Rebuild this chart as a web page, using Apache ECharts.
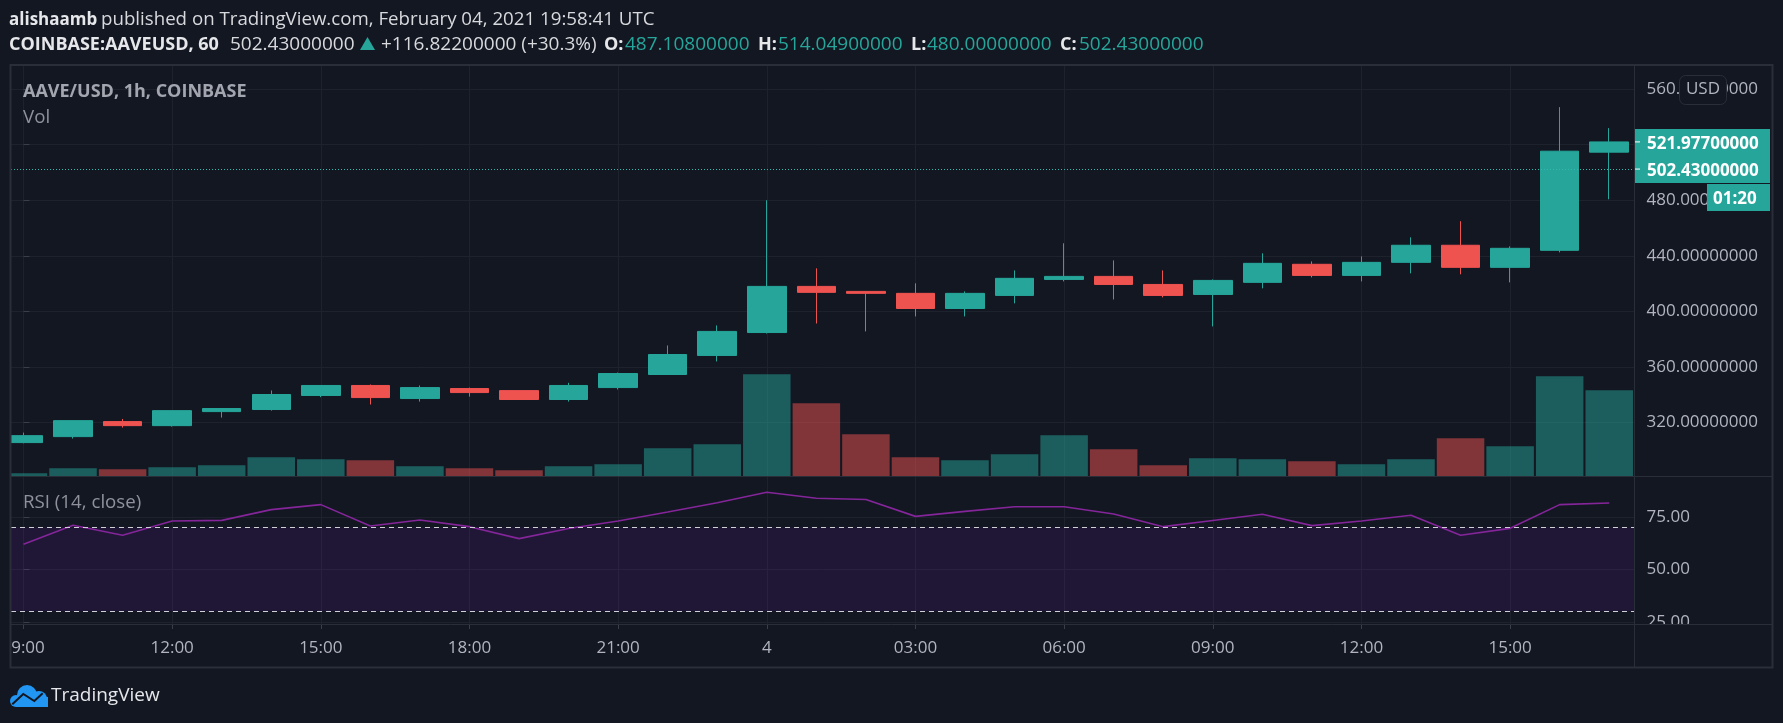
<!DOCTYPE html>
<html><head><meta charset="utf-8">
<style>html,body{margin:0;padding:0;background:#131722}#c{width:1783px;height:723px}</style>
<script src="https://cdn.jsdelivr.net/npm/echarts@6/dist/echarts.min.js"></script></head>
<body><div id="c"></div>
<script>
const hours = [0,1,2,3,4,5,6,7,8,9,10,11,12,13,14,15,16,17,18,19,20,21,22,23,24,25,26,27,28,29,30,31,32];
const opens  = [305.6,309.9,320.7,317.8,327.9,329.4,339.5,346.7,337.3,344.5,343.0,336.6,345.2,354.6,368.3,384.8,418.0,414.4,413.0,402.1,411.5,423.0,425.2,419.4,412.2,420.9,433.9,425.9,435.3,447.6,431.7,443.96,514.6];
const closes = [310.6,321.4,317.8,328.6,330.1,340.2,346.7,338.0,345.2,341.6,336.6,346.7,355.3,369.0,385.6,418.0,413.7,413.0,402.1,413.0,423.8,425.2,419.4,411.5,422.3,434.6,425.9,435.3,447.6,431.7,445.4,515.3,521.977];
const lows   = [305.1,308.5,316.4,317.1,323.6,328.6,338.3,333.0,335.1,338.7,336.6,335.1,343.8,354.6,364.0,384.1,391.3,385.6,396.4,396.4,405.8,421.6,408.6,410.1,389.2,416.6,424.5,421.6,427.4,426.7,420.9,442.5,480.7];
const highs  = [312.8,321.4,322.6,328.6,330.1,343.1,346.7,347.4,346.7,345.2,343.0,348.6,356.0,375.5,389.9,480.0,431.0,414.4,420.2,414.4,429.5,449.0,436.7,429.5,423.0,441.8,436.0,439.6,453.3,464.9,446.8,547.0,531.9];
const volumes = [10,25,22,28,34,58,52,49,31,25,19,31,37,85,97,307,220,127,58,49,67,124,82,34,55,52,46,37,52,115,91,301,259];
const rsi = [61.9,71.0,66.2,73.0,73.3,78.4,80.8,70.6,73.5,70.3,64.6,69.4,73.0,77.3,81.7,86.7,83.8,83.2,75.2,77.6,79.8,79.8,76.3,70.3,73.2,76.2,70.8,73.0,75.7,66.2,69.5,80.8,81.6];
const timeTickValues = [0,3,6,9,12,15,18,21,24,27,30];
const timeTickLabels = ['9:00','12:00','15:00','18:00','21:00','4','03:00','06:00','09:00','12:00','15:00'];
const priceTicks = [320,360,400,440,480,520,560];
const rsiTicks = [25,50,75];
const lastPrice = 502.43, liveClose = 521.977, rsiUpper = 70, rsiLower = 30;

const BG='#131722', UP='#26a69a', DOWN='#ef5350', GRIDC='#1e222c', FRAME='#2a2e39', TXT='#b2b5be';
const FAM='Open Sans', FONT='"Open Sans"';
const xMin=-0.252, xMax=32.51;
const chart = echarts.init(document.getElementById('c'),null,{renderer:'canvas'});

function xCommon(gridIndex, extra){
  return Object.assign({type:'value',gridIndex,min:xMin,max:xMax,
    axisLine:{show:false},
    axisTick:{show:false,customValues:timeTickValues},
    axisLabel:{show:false,customValues:timeTickValues},
    splitLine:{show:true,lineStyle:{color:GRIDC,width:1}}},extra||{});
}
const option = {
  animation:false,
  backgroundColor:BG,
  textStyle:{fontFamily:FAM},
  grid:[
    {left:11,right:148.5,top:66,height:410.5},
    {left:11,right:148.5,top:477,height:147}
  ],
  xAxis:[
    xCommon(0),
    xCommon(1,{
      axisTick:{show:true,length:5,customValues:timeTickValues,lineStyle:{color:'#3a3e49'}},
      axisLabel:{show:true,customValues:timeTickValues,color:TXT,fontSize:17,fontFamily:FAM,margin:16,
        formatter:v=>{const i=timeTickValues.indexOf(v);return i===0?'{f|'+timeTickLabels[i]+'}':timeTickLabels[i];},
        rich:{f:{color:TXT,fontSize:17,fontFamily:FAM,padding:[0,0,0,9]}}}
    })
  ],
  yAxis:[
    {type:'value',gridIndex:0,position:'right',min:281.2,max:576.6,
      axisLine:{show:false},
      axisTick:{show:true,length:6,customValues:priceTicks,lineStyle:{color:'#3a3e49'}},
      axisLabel:{show:true,customValues:priceTicks,color:TXT,fontSize:17,fontFamily:FAM,margin:12,padding:[2,0,0,0],formatter:v=>v.toFixed(8)},
      splitLine:{show:true,lineStyle:{color:GRIDC,width:1}}},
    {type:'value',gridIndex:0,position:'right',min:0,max:1231.5,show:false,splitLine:{show:false}},
    {type:'value',gridIndex:1,position:'right',min:23.95,max:93.95,
      axisLine:{show:false},
      axisTick:{show:true,length:6,customValues:rsiTicks,lineStyle:{color:'#3a3e49'}},
      axisLabel:{show:true,customValues:rsiTicks,color:TXT,fontSize:17,fontFamily:FAM,margin:12,padding:[2,0,0,0],formatter:v=>v.toFixed(2)},
      splitLine:{show:true,lineStyle:{color:GRIDC,width:1}}}
  ],
  series:[
    {type:'bar',name:'Vol',xAxisIndex:0,yAxisIndex:1,barWidth:47.5,z:1,
      data:hours.map((h,i)=>({value:[h,volumes[i]],itemStyle:{color:closes[i]>=opens[i]?'rgba(38,166,154,0.5)':'rgba(239,83,80,0.5)'}}))},
    {type:'line',name:'last',xAxisIndex:0,yAxisIndex:0,data:[],z:2,silent:true,
      markLine:{silent:true,symbol:'none',label:{show:false},
        lineStyle:{color:'#2fb8ab',type:[1,2],width:1,opacity:1},data:[{yAxis:lastPrice}]}},
    {type:'candlestick',name:'AAVE/USD',layout:'horizontal',xAxisIndex:0,yAxisIndex:0,barWidth:39,z:3,
      encode:{x:0,y:[1,2,3,4]},
      itemStyle:{color:UP,color0:DOWN,borderColor:UP,borderColor0:DOWN,borderWidth:1},
      data:hours.map((h,i)=>[h,opens[i],closes[i],lows[i],highs[i]])},
    {type:'line',name:'RSI',xAxisIndex:1,yAxisIndex:2,symbol:'none',z:3,
      lineStyle:{color:'#84259a',width:1.6},
      data:hours.map((h,i)=>[h,rsi[i]]),
      markLine:{silent:true,symbol:'none',label:{show:false},
        lineStyle:{color:'#cfd1d6',type:[5,4],width:1},
        data:[{yAxis:rsiUpper},{yAxis:rsiLower}]},
      markArea:{silent:true,itemStyle:{color:'rgba(150,30,240,0.1)'},
        data:[[{yAxis:rsiLower},{yAxis:rsiUpper}]]}}
  ]
};
chart.setOption(option);

function T(x,y,text,o){return {type:'text',x,y:y+1,z2:(o&&o.z2)||10,silent:true,style:Object.assign({text,fill:TXT,font:'17px '+FONT,textAlign:'left',textVerticalAlign:'middle'},o||{})};}
function R(x,y,w,h,fill,o){return Object.assign({type:'rect',silent:true,z2:5,shape:{x,y,width:w,height:h},style:{fill}},o||{});}
function L(x1,y1,x2,y2,c,w,z){return {type:'line',silent:true,z2:z||8,shape:{x1,y1,x2,y2},style:{stroke:c,lineWidth:w}};}
function C(cx,cy,r,fill){return {type:'circle',silent:true,z2:10,shape:{cx,cy,r},style:{fill}};}
const yClose=chart.convertToPixel({yAxisIndex:0},liveClose), yLast=chart.convertToPixel({yAxisIndex:0},lastPrice);
const W='#e6e7ea', boldF='bold 18px '+FONT, tagF='bold 17px '+FONT, reg='19px '+FONT;
const elements=[
  // masks outside panes
  R(0,60,10,570,BG),
  R(1636,625,136,41,BG),
  // frame
  {type:'rect',silent:true,z2:8,shape:{x:10.5,y:65,width:1762,height:602.5},style:{fill:'none',stroke:FRAME,lineWidth:2}},
  L(1634.5,65,1634.5,667,FRAME,1),
  L(10,624.5,1773,624.5,FRAME,1),
  L(10,476.5,1773,476.5,FRAME,1),
  // header
  T(9,19,'alishaamb',{font:'bold 17px '+FONT,fill:'#e6e7ea'}),
  T(101,19,'published on TradingView.com, February 04, 2021 19:58:41 UTC',{font:'18.7px '+FONT,fill:'#d8d9dd'}),
  T(9,44,'COINBASE:AAVEUSD, 60',{font:boldF,fill:W}),
  T(230,44,'502.43000000',{font:reg,fill:'#d8d9dd'}),
  {type:'polygon',silent:true,z2:10,shape:{points:[[367.5,37],[360,50],[375,50]]},style:{fill:UP}},
  T(381,44,'+116.82200000 (+30.3%)',{font:reg,fill:'#d8d9dd'}),
  T(604,44,'O:',{font:boldF,fill:W}),T(625,44,'487.10800000',{font:reg,fill:UP}),
  T(758,44,'H:',{font:boldF,fill:W}),T(778,44,'514.04900000',{font:reg,fill:UP}),
  T(911,44,'L:',{font:boldF,fill:W}),T(927,44,'480.00000000',{font:reg,fill:UP}),
  T(1060,44,'C:',{font:boldF,fill:W}),T(1079,44,'502.43000000',{font:reg,fill:UP}),
  // legends
  T(23,91,'AAVE/USD, 1h, COINBASE',{font:boldF,fill:'#a3a6af'}),
  T(23,117,'Vol',{font:'18.7px '+FONT,fill:'#8f929b'}),
  T(23,502,'RSI (14, close)',{font:'18.7px '+FONT,fill:'#8f929b'}),
  // price tags
  R(1634,yClose-13,136,(yLast-yClose)+27,UP),
  L(1635,yClose,1640,yClose,'#ffffff',1,11),
  L(1635,yLast,1640,yLast,'#ffffff',1,11),
  T(1647,yClose+1,liveClose.toFixed(8),{font:tagF,fill:'#fff',z2:12}),
  T(1647,yLast+1,lastPrice.toFixed(8),{font:tagF,fill:'#fff',z2:12}),
  R(1707,184,63,27,UP),
  T(1713,198,'01:20',{font:tagF,fill:'#fff',z2:12}),
  // USD button
  {type:'rect',silent:true,z2:6,shape:{x:1679.5,y:75.5,width:47,height:29,r:6},style:{fill:BG,stroke:FRAME,lineWidth:1}},
  T(1703,88,'USD',{font:'17px '+FONT,fill:TXT,textAlign:'center',z2:12}),
  // logo
  C(16,701,6,'#2196f3'),C(27,695,10,'#2196f3'),C(39,699,8,'#2196f3'),
  R(16,697,32,10,'#2196f3',{z2:10}),
  {type:'polyline',silent:true,z2:11,shape:{points:[[12.3,704.3],[23.3,694],[34.3,701],[42.7,693.3]]},style:{stroke:BG,lineWidth:2,fill:'none'}},
  T(51,695,'TradingView',{font:'19px '+FONT,fill:'#e6e7ea'})
];
chart.setOption({graphic:{zlevel:5,z:100,elements:elements.map(e=>Object.assign({zlevel:5,z:100},e))}});
</script></body></html>
